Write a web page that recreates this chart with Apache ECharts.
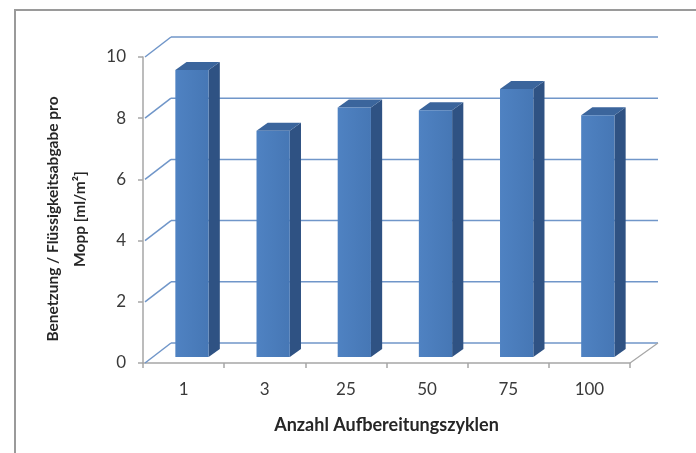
<!DOCTYPE html>
<html>
<head>
<meta charset="utf-8">
<script src="https://cdn.jsdelivr.net/npm/echarts@6/dist/echarts.min.js"></script>
<style>
  html, body { margin: 0; padding: 0; background: #fff; }
  #chart { width: 696px; height: 453px; }
</style>
</head>
<body>
<div id="chart"></div>
<script>
// Cycle counts on the x axis and measured wetting per mop
const categories = ['1', '3', '25', '50', '75', '100'];
const wetting = [9.38, 7.39, 8.15, 8.06, 8.76, 7.9];
const yTicks = [0, 2, 4, 6, 8, 10];

// Perspective offset of the back wall relative to the front plane (pixels)
const DEPTH_X = 28;
const DEPTH_Y = -20;
// Bars sit between these depth fractions
const BAR_D1 = 0.3;
const BAR_D2 = 0.7;
const GRID_COLOR = '#7096c9';

const chart = echarts.init(document.getElementById('chart'));

function wallItem(params, api) {
  const v = api.value(1);
  const cs = params.coordSys;
  const p = api.coord([0, v]);
  const x0 = cs.x, x1 = cs.x + cs.width;
  const children = [
    { type: 'line', shape: { x1: x0 + 2, y1: p[1], x2: x0 + DEPTH_X, y2: p[1] + DEPTH_Y },
      style: { stroke: GRID_COLOR, lineWidth: 1.5 } },
    { type: 'line', shape: { x1: x0 + DEPTH_X, y1: p[1] + DEPTH_Y, x2: x1 + DEPTH_X, y2: p[1] + DEPTH_Y },
      style: { stroke: GRID_COLOR, lineWidth: 1.5 } }
  ];
  if (v === 0) {
    children.push({ type: 'line', shape: { x1: x1, y1: p[1], x2: x1 + DEPTH_X, y2: p[1] + DEPTH_Y },
      style: { stroke: '#a6a6a6', lineWidth: 1.2 } });
  }
  return { type: 'group', children };
}

function barItem(params, api) {
  const i = api.value(0);
  const v = api.value(1);
  const base = api.coord([i, 0]);
  const top = api.coord([i, v]);
  const hw = api.size([1, 0])[0] * 0.205;
  const fx = DEPTH_X * BAR_D1, fy = DEPTH_Y * BAR_D1;
  const bx = DEPTH_X * BAR_D2, by = DEPTH_Y * BAR_D2;
  const L = base[0] - hw, R = base[0] + hw;
  const yb = base[1], yt = top[1];
  return {
    type: 'group',
    children: [
      { type: 'polygon', shape: { points: [[R + fx, yt + fy], [R + bx, yt + by], [R + bx, yb + by], [R + fx, yb + fy]] },
        style: { fill: '#2f5283' } },
      { type: 'polygon', shape: { points: [[L + fx, yt + fy], [L + bx, yt + by], [R + bx, yt + by], [R + fx, yt + fy]] },
        style: { fill: '#3b659c' } },
      { type: 'polygon', shape: { points: [[L + fx, yt + fy], [R + fx, yt + fy], [R + fx, yb + fy], [L + fx, yb + fy]] },
        style: { fill: new echarts.graphic.LinearGradient(0, 0, 1, 0, [
          { offset: 0, color: '#4f82c2' }, { offset: 1, color: '#4677b5' }]) } }
    ]
  };
}

chart.setOption({
  animation: false,
  graphic: [
    { type: 'rect', shape: { x: 15, y: 10, width: 700, height: 460 },
      style: { fill: 'none', stroke: '#9a9a9a', lineWidth: 2 },
      shadowBlur: 3, shadowColor: 'rgba(0,0,0,0.25)', z: 0 }
  ],
  grid: { left: 143, right: 66, top: 57, bottom: 90, containLabel: false },
  xAxis: {
    type: 'category',
    data: categories,
    name: 'Anzahl Aufbereitungszyklen',
    nameLocation: 'middle',
    nameGap: 53,
    nameTextStyle: { fontFamily: 'Lato', fontWeight: 'bold', fontSize: 18, color: '#262626' },
    axisLine: { lineStyle: { color: '#a6a6a6', width: 1.5 } },
    axisTick: { show: true, length: 5, lineStyle: { color: '#a6a6a6', width: 1.5 } },
    axisLabel: { fontFamily: 'Lato', fontSize: 17, color: '#3a3a3a', margin: 18 },
    splitLine: { show: false }
  },
  yAxis: {
    type: 'value',
    min: 0,
    max: 10,
    interval: 2,
    name: 'Benetzung / Flüssigkeitsabgabe pro\nMopp [ml/m²]',
    nameLocation: 'middle',
    nameGap: 50,
    nameRotate: 90,
    nameTextStyle: { fontFamily: 'Lato', fontWeight: 'bold', fontSize: 15.5, color: '#262626',
      lineHeight: 27, padding: [0, 18, 0, 0] },
    axisLine: { show: true, lineStyle: { color: '#a6a6a6', width: 1.5 } },
    axisTick: { show: true, length: 5, lineStyle: { color: '#a6a6a6', width: 1.5 } },
    axisLabel: { fontFamily: 'Lato', fontSize: 17, color: '#3a3a3a', margin: 17 },
    splitLine: { show: false }
  },
  series: [
    {
      type: 'custom',
      renderItem: wallItem,
      data: yTicks.map(t => [0, t]),
      encode: { x: 0, y: 1 },
      clip: false,
      silent: true,
      z: 1
    },
    {
      type: 'custom',
      renderItem: barItem,
      data: wetting.map((v, i) => [i, v]),
      encode: { x: 0, y: 1 },
      clip: false,
      z: 3
    }
  ]
});
</script>
</body>
</html>
